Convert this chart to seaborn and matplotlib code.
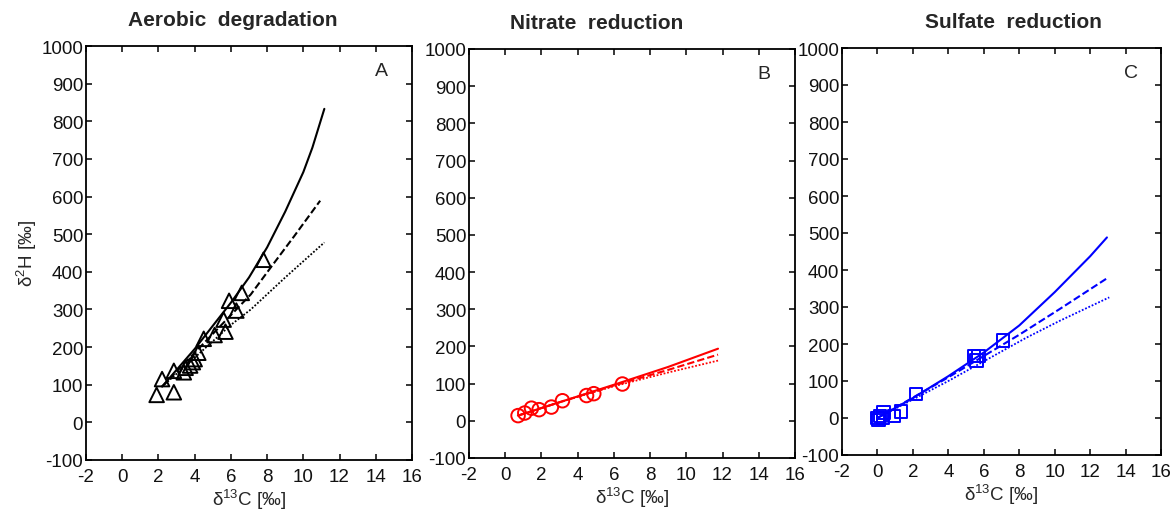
import numpy as np
import pandas as pd
import seaborn as sns
import matplotlib.pyplot as plt

sns.set_theme(style="white")
plt.rcParams['font.family'] = ['Liberation Sans', 'DejaVu Sans']
plt.rcParams['mathtext.fontset'] = 'custom'
plt.rcParams['mathtext.rm'] = 'Liberation Sans'
plt.rcParams['mathtext.it'] = 'Liberation Sans:italic'
plt.rcParams['axes.unicode_minus'] = False

# ---------------- data ----------------
titles = ["Aerobic  degradation", "Nitrate  reduction", "Sulfate  reduction"]
letters = ["A", "B", "C"]
colors = ["black", "red", "blue"]
markers = ["^", "o", "s"]

# Panel A (aerobic) observations
a_obs_x = [1.9, 2.85, 2.2, 2.85, 3.4, 3.5, 3.75, 3.9, 4.0, 4.2, 4.5, 5.1, 5.7, 5.6, 5.9, 6.3, 6.6, 7.8]
a_obs_y = [73, 80, 115, 137, 133, 145, 151, 160, 168, 185, 222, 232, 241, 273, 323, 297, 344, 432]
# Panel A model curves
a_solid_x = [2.2, 4.0, 6.0, 7.0, 8.0, 9.0, 10.0, 10.5, 11.16]
a_solid_y = [95, 195, 318, 385, 465, 560, 665, 730, 833]
a_dash_x = [2.2, 4.0, 6.0, 7.1, 8.3, 9.5, 10.93]
a_dash_y = [95, 185, 285, 340, 418, 495, 589]
a_dot_x = [2.2, 4.0, 6.0, 7.1, 9.0, 11.16]
a_dot_y = [95, 172, 259, 300, 385, 478]

# Panel B (nitrate) observations
b_obs_x = [0.71, 1.08, 1.45, 1.87, 2.55, 3.16, 4.49, 4.89, 6.47]
b_obs_y = [14, 21, 34, 30, 37, 54, 68, 73, 99]
b_solid_x = [0.7, 3.0, 6.0, 9.0, 11.75]
b_solid_y = [14, 50, 97, 145, 194]
b_dash_x = [0.7, 3.0, 6.0, 9.0, 11.75]
b_dash_y = [14, 50, 95, 137, 178]
b_dot_x = [0.7, 3.0, 6.0, 9.0, 11.75]
b_dot_y = [14, 50, 93, 130, 162]

# Panel C (sulfate) observations
c_obs_x = [0.0, 0.06, 0.16, 0.3, 0.34, 0.95, 1.32, 2.17, 5.45, 5.7, 5.6, 7.07]
c_obs_y = [0, -5, 6, 0, 15, 5, 18, 65, 168, 168, 155, 209]
c_solid_x = [0.0, 2.0, 4.0, 6.0, 8.0, 10.0, 12.0, 12.95]
c_solid_y = [0, 54, 113, 177, 250, 340, 437, 488]
c_dash_x = [0.0, 4.0, 8.0, 10.3, 13.03]
c_dash_y = [0, 110, 225, 295, 380]
c_dot_x = [0.0, 4.0, 8.4, 10.3, 13.08]
c_dot_y = [0, 100, 217, 263, 326]

x_ticks = [-2, 0, 2, 4, 6, 8, 10, 12, 14, 16]
y_ticks = [-100, 0, 100, 200, 300, 400, 500, 600, 700, 800, 900, 1000]

panels = [
    (a_obs_x, a_obs_y, a_solid_x, a_solid_y, a_dash_x, a_dash_y, a_dot_x, a_dot_y),
    (b_obs_x, b_obs_y, b_solid_x, b_solid_y, b_dash_x, b_dash_y, b_dot_x, b_dot_y),
    (c_obs_x, c_obs_y, c_solid_x, c_solid_y, c_dash_x, c_dash_y, c_dot_x, c_dot_y),
]

# ---------------- layout ----------------
W, H = 1174, 510
fig = plt.figure(figsize=(W / 100, H / 100), dpi=100)
boxes_px = [(86, 47, 412, 461), (469, 50, 795, 459), (842, 49, 1161, 456)]
title_x = [0.45, 0.39, 0.536]
marker_sizes = [110, 95, 80]

for i, (box, pdata) in enumerate(zip(boxes_px, panels)):
    l, t, r, b = box
    ax = fig.add_axes([l / W, (H - b) / H, (r - l) / W, (b - t) / H])
    ox, oy, sx, sy, dx, dy, px, py = pdata
    c = colors[i]
    sns.lineplot(x=sx, y=sy, ax=ax, color=c, lw=1.5, linestyle='-', sort=False, estimator=None)
    sns.lineplot(x=dx, y=dy, ax=ax, color=c, lw=1.5, linestyle=(0, (3.5, 1.5)), sort=False, estimator=None)
    sns.lineplot(x=px, y=py, ax=ax, color=c, lw=1.3, linestyle=(0, (1, 1)), sort=False, estimator=None)
    sns.scatterplot(x=ox, y=oy, ax=ax, marker=markers[i], s=marker_sizes[i],
                    facecolor='none', edgecolor=c, linewidth=1.4, zorder=5)
    ax.set_xlim(-2, 16)
    ax.set_ylim(-100, 1000)
    ax.set_xticks(x_ticks)
    ax.set_yticks(y_ticks)
    ax.tick_params(direction='in', length=4, width=1.1, labelsize=13.5,
                   top=True, right=True, bottom=True, left=True, colors='black',
                   labelcolor='#111111')
    ax.tick_params(axis='x', pad=6)
    ax.tick_params(axis='y', pad=2)
    for sp in ax.spines.values():
        sp.set_visible(True)
        sp.set_color('black')
        sp.set_linewidth(1.3)
    ax.set_title(titles[i], fontsize=15, fontweight='bold', x=title_x[i], pad=15)
    ax.set_xlabel('δ$^{13}$C [‰]', fontsize=13.5, labelpad=1)
    if i == 0:
        ax.set_ylabel('δ$^{2}$H [‰]', fontsize=13.5, labelpad=2)
    else:
        ax.set_ylabel('')
    ax.text(0.905, 0.94, letters[i], transform=ax.transAxes, fontsize=14,
            ha='center', va='center')
    ax.grid(False)

fig.savefig('out.png', dpi=100)
